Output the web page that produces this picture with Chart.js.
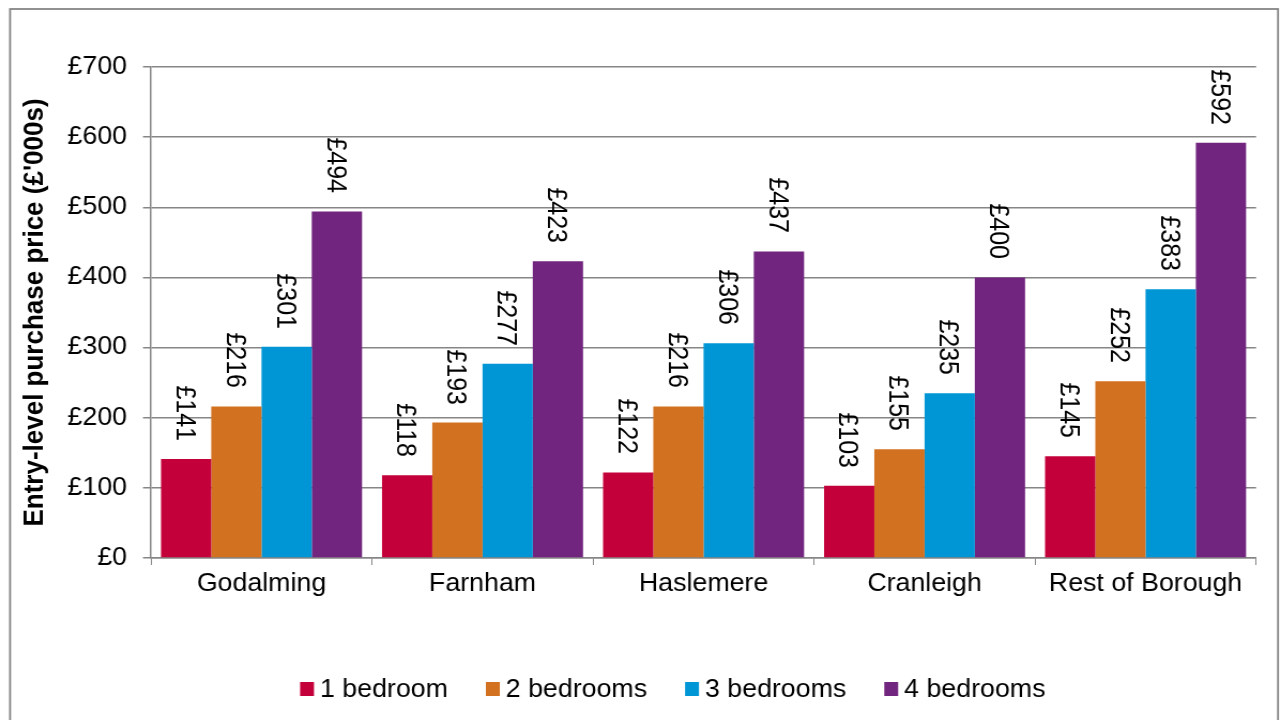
<!DOCTYPE html>
<html><head><meta charset="utf-8">
<script src="https://cdn.jsdelivr.net/npm/chart.js@4.4.1/dist/chart.umd.min.js"></script>
<style>
html,body{margin:0;padding:0;background:#fff;overflow:hidden;}
#wrap{position:absolute;left:0;top:0;width:1197px;height:720px;transform:scaleX(1.07018);transform-origin:0 0;}
</style></head><body>
<div id="wrap"><canvas id="c"></canvas></div>
<script>
const categories = ['Godalming', 'Farnham', 'Haslemere', 'Cranleigh', 'Rest of Borough'];
const seriesNames = ['1 bedroom', '2 bedrooms', '3 bedrooms', '4 bedrooms'];
const oneBedroom = [141, 118, 122, 103, 145];
const twoBedrooms = [216, 193, 216, 155, 252];
const threeBedrooms = [301, 277, 306, 235, 383];
const fourBedrooms = [494, 423, 437, 400, 592];
const yTickValues = [0, 100, 200, 300, 400, 500, 600, 700];
const yTitle = "Entry-level purchase price (£'000s)";
const seriesColors = ['#C4003A', '#D2711F', '#0096D6', '#72257F'];

const FONT = '"Liberation Sans", Arial, Helvetica, sans-serif';
const GRID = '#868686';

const frame = {
  id: 'frame',
  beforeDraw(chart) {
    const ctx = chart.ctx;
    ctx.save();
    ctx.fillStyle = '#fff';
    ctx.fillRect(0, 0, chart.width, chart.height);
    ctx.strokeStyle = GRID;
    ctx.lineWidth = 1.8;
    ctx.strokeRect(9.4, 9, 1194.2 - 9.4, 760);
    ctx.restore();
  }
};

const valueLabels = {
  id: 'valueLabels',
  afterDatasetsDraw(chart) {
    const ctx = chart.ctx;
    ctx.save();
    ctx.font = '25px ' + FONT;
    ctx.fillStyle = '#000';
    ctx.textAlign = 'right';
    ctx.textBaseline = 'alphabetic';
    chart.data.datasets.forEach((ds, di) => {
      const meta = chart.getDatasetMeta(di);
      meta.data.forEach((bar, i) => {
        const v = ds.data[i];
        ctx.save();
        ctx.translate(Math.round(bar.x), Math.round(bar.y - 18));
        ctx.rotate(Math.PI / 2);
        ctx.fillText('£' + v, 0, 9);
        ctx.restore();
      });
    });
    ctx.restore();
  }
};

const legendBox = {
  id: 'legendBox',
  afterDraw(chart) {
    const ctx = chart.ctx;
    ctx.save();
    ctx.font = '25px ' + FONT;
    ctx.textBaseline = 'alphabetic';
    ctx.textAlign = 'left';
    let x = 280.4;
    chart.data.datasets.forEach(ds => {
      ctx.fillStyle = ds.backgroundColor;
      ctx.fillRect(x, 682, 13, 14);
      ctx.fillStyle = '#000';
      ctx.fillText(ds.label, x + 13 + 5.6, 696.5);
      x += 13 + 5.6 + ctx.measureText(ds.label).width + 35.5;
    });
    ctx.restore();
  }
};

const seriesData = [oneBedroom, twoBedrooms, threeBedrooms, fourBedrooms];

new Chart(document.getElementById('c'), {
  type: 'bar',
  data: {
    labels: categories,
    datasets: seriesNames.map((name, i) => ({
      label: name,
      data: seriesData[i],
      backgroundColor: seriesColors[i],
      borderWidth: 0,
      categoryPercentage: 0.9095,
      barPercentage: 1.0
    }))
  },
  options: {
    responsive: true,
    maintainAspectRatio: false,
    animation: false,
    devicePixelRatio: 1,
    layout: { padding: { left: 0, right: 23.3, top: 67, bottom: 0 } },
    plugins: {
      legend: { display: false },
      tooltip: { enabled: false },
      title: { display: false }
    },
    scales: {
      x: {
        offset: true,
        grid: { display: true, drawOnChartArea: false, drawTicks: true, tickLength: 7, color: GRID, offset: true },
        border: { display: true, color: GRID, width: 1.5 },
        ticks: { color: '#000', font: { family: FONT, size: 25 }, padding: 4.5, maxRotation: 0, autoSkip: false },
        afterFit(scale) { scale.height = 720 - 558; }
      },
      y: {
        min: 0, max: 700,
        afterBuildTicks(scale) { scale.ticks = yTickValues.map(v => ({ value: v })); },
        grid: { color: GRID, lineWidth: 1.5, drawTicks: true, tickLength: 7.5 },
        border: { display: true, color: GRID, width: 1.5 },
        ticks: { color: '#000', font: { family: FONT, size: 25 }, padding: 14.9, callback: v => '£' + v },
        title: { display: true, text: yTitle, color: '#000', font: { family: FONT, size: 26, weight: 'bold' }, padding: { top: 17.1, bottom: 0 } },
        afterFit(scale) { scale.width = 141.1; }
      }
    }
  },
  plugins: [frame, valueLabels, legendBox]
});
</script>
</body></html>
